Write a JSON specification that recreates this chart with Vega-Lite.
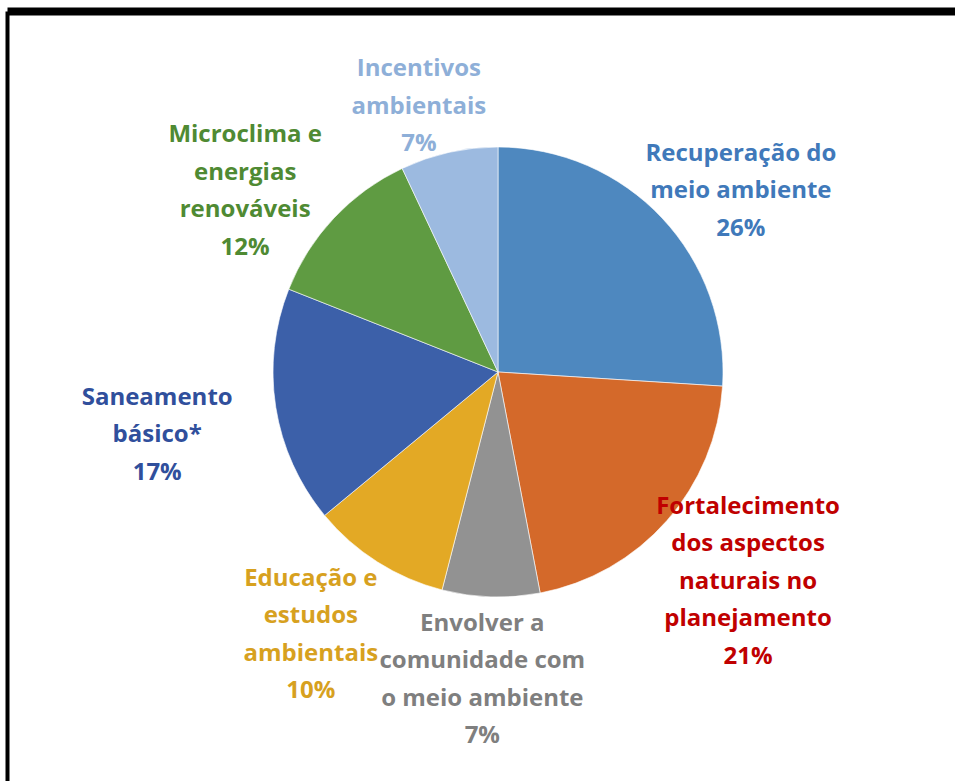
{
  "$schema": "https://vega.github.io/schema/vega-lite/v6.json",
  "autosize": {"type": "none"},
  "padding": {"left": 7, "top": 11, "right": 0, "bottom": 0},
  "width": 948,
  "height": 770,
  "background": "white",
  "config": {"view": {"stroke": null}},
  "data": {
    "values": [
      {"k": 1, "cat": "Recuperação do meio ambiente", "pct": 26, "label": "Recuperação do\nmeio ambiente\n26%"},
      {"k": 2, "cat": "Fortalecimento dos aspectos naturais no planejamento", "pct": 21, "label": "Fortalecimento\ndos aspectos\nnaturais no\nplanejamento\n21%"},
      {"k": 3, "cat": "Envolver a comunidade com o meio ambiente", "pct": 7, "label": "Envolver a\ncomunidade com\no meio ambiente\n7%"},
      {"k": 4, "cat": "Educação e estudos ambientais", "pct": 10, "label": "Educação e\nestudos\nambientais\n10%"},
      {"k": 5, "cat": "Saneamento básico*", "pct": 17, "label": "Saneamento\nbásico*\n17%"},
      {"k": 6, "cat": "Microclima e energias renováveis", "pct": 12, "label": "Microclima e\nenergias\nrenováveis\n12%"},
      {"k": 7, "cat": "Incentivos ambientais", "pct": 7, "label": "Incentivos\nambientais\n7%"}
    ]
  },
  "layer": [
    {
      "mark": {"type": "point", "opacity": 0},
      "encoding": {
        "x": {"field": "pct", "type": "quantitative", "axis": {"orient": "top", "labels": false, "ticks": false, "grid": false, "title": null, "domainColor": "black", "domainWidth": 8}},
        "y": {"field": "pct", "type": "quantitative", "axis": {"orient": "left", "labels": false, "ticks": false, "grid": false, "title": null, "domainColor": "black", "domainWidth": 4}}
      }
    },
    {
      "mark": {"type": "arc", "radius": 225, "xOffset": 17, "yOffset": -24, "stroke": "white", "strokeWidth": 0.6},
      "encoding": {
        "theta": {"field": "pct", "type": "quantitative", "stack": true},
        "order": {"field": "k", "type": "quantitative"},
        "color": {
          "field": "cat", "type": "nominal", "legend": null,
          "scale": {
            "domain": ["Recuperação do meio ambiente", "Fortalecimento dos aspectos naturais no planejamento", "Envolver a comunidade com o meio ambiente", "Educação e estudos ambientais", "Saneamento básico*", "Microclima e energias renováveis", "Incentivos ambientais"],
            "range": ["#4E88BF", "#D4692A", "#929292", "#E3A925", "#3C60A9", "#5F9B42", "#9CBAE0"]
          }
        }
      }
    },
    {
      "mark": {
        "type": "text", "radius": 290, "xOffset": 12, "yOffset": -6,
        "dx": {"expr": "50*sin(PI*(datum.pct_start+datum.pct_end)/100)"},
        "dy": {"expr": "-(length(split(datum.label,'\\n'))-1)*18.75"},
        "font": "Open Sans", "fontWeight": "bold", "fontSize": 24, "lineHeight": 37.5, "lineBreak": "\n", "align": "center", "baseline": "middle"
      },
      "encoding": {
        "theta": {"field": "pct", "type": "quantitative", "stack": true},
        "order": {"field": "k", "type": "quantitative"},
        "text": {"field": "label", "type": "nominal"},
        "color": {
          "field": "k", "type": "nominal", "legend": null,
          "scale": {
            "domain": [1, 2, 3, 4, 5, 6, 7],
            "range": ["#4079BA", "#C00000", "#7F7F7F", "#D7A11F", "#304F9C", "#4F8A33", "#8EAFD8"]
          }
        }
      }
    }
  ],
  "resolve": {"scale": {"color": "independent"}}
}
